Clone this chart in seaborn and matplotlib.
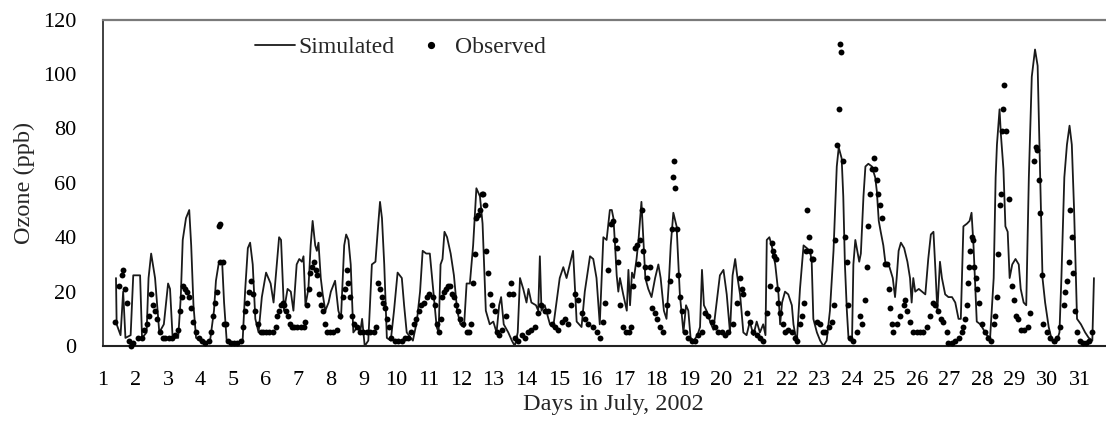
import matplotlib
matplotlib.use("Agg")
import matplotlib.pyplot as plt
from matplotlib.lines import Line2D
import seaborn as sns

# Simulated hourly ozone (vertices), day-of-month and ppb
sim_day = [1.40, 1.42, 1.54, 1.62, 1.69, 1.85, 1.93, 2.14, 2.20, 2.34, 2.40, 2.48, 2.60, 2.73, 2.87, 3.00,
           3.06, 3.14, 3.31, 3.39, 3.45, 3.55, 3.65, 3.71, 3.78, 3.86, 3.98, 4.13, 4.29, 4.41, 4.47, 4.55,
           4.66, 4.72, 4.80, 5.11, 5.29, 5.37, 5.45, 5.52, 5.60, 5.68, 5.78, 5.88, 6.01,
           6.15, 6.24, 6.34, 6.41, 6.47, 6.56, 6.67, 6.77, 6.85, 6.95, 7.03, 7.11, 7.16, 7.22, 7.31, 7.38,
           7.44, 7.52, 7.57, 7.62, 7.69, 7.75, 7.83, 7.93, 8.00, 8.13, 8.23, 8.31, 8.41, 8.47, 8.54, 8.61,
           8.69, 8.82, 8.90, 8.96, 9.04, 9.15, 9.26, 9.37, 9.45, 9.51, 9.57, 9.64, 9.72, 9.84, 9.94, 10.05,
           10.18, 10.25, 10.33, 10.52, 10.64, 10.74, 10.82, 10.93, 11.00,
           11.04, 11.14, 11.25, 11.31, 11.37, 11.43, 11.49, 11.57, 11.68, 11.78, 11.88, 11.98, 12.09, 12.17,
           12.27, 12.37, 12.47, 12.58, 12.66, 12.76, 12.88, 12.99, 13.09, 13.17, 13.23, 13.31, 13.45, 13.56,
           13.65, 13.74, 13.81, 13.91, 14.01, 14.07, 14.16, 14.30, 14.37, 14.42, 14.47, 14.57, 14.73, 14.83,
           14.93, 15.03, 15.14, 15.24, 15.34, 15.44, 15.55, 15.70, 15.80, 15.96, 16.06, 16.16, 16.26, 16.37,
           16.47, 16.57, 16.63, 16.68, 16.73, 16.78, 16.83, 16.88, 16.98, 17.09, 17.14, 17.19, 17.25, 17.31,
           17.39, 17.45, 17.54, 17.60, 17.66, 17.75, 17.85, 17.96, 18.06, 18.13, 18.23, 18.31, 18.38, 18.44,
           18.52, 18.62, 18.72, 18.83, 18.91, 18.98, 19.05, 19.15, 19.26, 19.34, 19.40, 19.46, 19.54, 19.65,
           19.75, 19.85, 19.95, 20.06, 20.16, 20.26, 20.34, 20.42, 20.48, 20.57, 20.67, 20.77, 20.87, 20.98,
           21.08, 21.18, 21.28, 21.35, 21.39, 21.47,
           21.54, 21.65, 21.75, 21.80, 21.86, 21.95, 22.05, 22.16, 22.21, 22.31, 22.41, 22.52, 22.62, 22.72,
           22.77, 22.82, 22.93, 23.03, 23.13, 23.23, 23.33, 23.44, 23.49, 23.54, 23.60, 23.69, 23.74, 23.79,
           23.85, 23.90, 23.95, 24.01, 24.05, 24.11, 24.17, 24.23, 24.28, 24.36, 24.42, 24.51, 24.62, 24.72,
           24.77, 24.83, 24.89, 24.97, 25.03, 25.16, 25.26, 25.33, 25.38, 25.44, 25.51, 25.61, 25.71, 25.79,
           25.84, 25.89, 25.95, 26.06, 26.16, 26.26, 26.35, 26.43, 26.51, 26.57, 26.63, 26.71, 26.77, 26.87,
           26.97, 27.08, 27.18, 27.28, 27.35, 27.43, 27.54, 27.62, 27.68, 27.74, 27.84, 27.95, 28.05, 28.15,
           28.25, 28.36, 28.42, 28.46, 28.54, 28.58, 28.66, 28.72, 28.79, 28.85, 28.93, 29.03, 29.13, 29.19,
           29.28, 29.36, 29.44, 29.53, 29.63, 29.71, 29.79, 29.86, 29.94, 30.05, 30.15, 30.28, 30.38, 30.44,
           30.53, 30.61, 30.69, 30.76, 30.83, 30.92, 31.04, 31.17, 31.28, 31.39, 31.44]
sim_ppb = [25, 8, 4, 20, 3, 4, 26, 26, 3, 5, 25, 34, 25, 5, 8, 23,
           21, 3, 3, 18, 39, 47, 50, 37, 15, 3, 2, 1, 2, 13, 24, 30,
           31, 16, 2, 1, 2, 21, 36, 38, 30, 10, 5, 18, 27,
           23, 16, 30, 40, 39, 13, 21, 20, 13, 30, 32, 31, 33, 15, 21, 37,
           46, 37, 35, 38, 25, 19, 13, 16, 20, 24, 13, 10, 37, 41, 39, 30,
           5, 7, 5, 10, 0, 2, 30, 31, 44, 53, 47, 30, 3, 2, 13, 27,
           25, 15, 5, 2, 9, 20, 35, 34, 34,
           34, 21, 7, 5, 30, 32, 42, 40, 34, 26, 13, 8, 7, 23,
           23, 37, 58, 55, 45, 13, 8, 9, 5, 15, 18, 8, 5, 2,
           0, 5, 25, 21, 16, 21, 16, 15, 13, 33, 13, 15, 8, 7,
           16, 25, 29, 25, 30, 35, 9, 7, 20, 33, 32, 25, 8, 40,
           39, 50, 50, 47, 37, 26, 20, 25, 19, 13, 28, 15, 27, 25,
           32, 39, 53, 39, 25, 21, 18, 25, 30, 25, 13, 10, 23, 37,
           49, 44, 19, 5, 15, 13, 3, 2, 4, 7, 28, 15, 13, 9,
           6, 16, 26, 28, 19, 5, 26, 32, 26, 19, 5, 4, 9, 4,
           9, 5, 8, 4, 39, 40,
           37, 30, 19, 8, 16, 20, 19, 15, 8, 1, 21, 37, 36, 35,
           31, 10, 5, 2, 0, 2, 13, 35, 50, 66, 73, 69, 55, 30,
           13, 3, 2, 3, 30, 39, 35, 31, 34, 55, 66, 67, 66, 62,
           57, 46, 42, 37, 31, 29, 25, 18, 25, 35, 38, 36, 31, 25,
           16, 25, 20, 21, 20, 19, 32, 41, 42, 28, 13, 31, 25, 19,
           18, 18, 16, 10, 10, 44, 45, 46, 49, 37, 9, 8, 6, 4,
           3, 25, 62, 74, 87, 78, 65, 44, 42, 25, 30, 32, 30, 21,
           16, 15, 62, 99, 109, 103, 62, 25, 16, 7, 2, 1, 5, 25,
           62, 74, 81, 74, 50, 10, 8, 5, 3, 2, 25]

# Observed hourly ozone dots, day-of-month and ppb
obs_day = [1.37, 1.50, 1.57, 1.62, 1.69, 1.73, 1.81, 1.87, 1.93, 2.09, 2.19, 2.26, 2.34, 2.42, 2.48, 2.55,
           2.61, 2.67, 2.75, 2.83, 2.91, 3.02, 3.12, 3.22, 3.30, 3.37, 3.43, 3.47, 3.53, 3.59, 3.65, 3.71,
           3.78, 3.86, 3.94, 4.04, 4.14, 4.25, 4.33, 4.39, 4.45, 4.51, 4.56, 4.58, 4.61, 4.68, 4.73, 4.78,
           4.84, 4.92, 5.02, 5.13, 5.23, 5.31, 5.37, 5.43, 5.50, 5.56, 5.62, 5.68, 5.76, 5.84, 5.93, 6.01,
           6.11, 6.22, 6.30, 6.36, 6.41, 6.46, 6.52, 6.57, 6.62, 6.68, 6.73, 6.80, 6.88, 6.97, 7.07, 7.16,
           7.22, 7.27, 7.32, 7.37, 7.42, 7.47, 7.53, 7.58, 7.63, 7.69, 7.77, 7.83, 7.89, 7.98, 8.08, 8.18,
           8.28, 8.37, 8.43, 8.49, 8.54, 8.59, 8.65, 8.71, 8.80, 8.90, 9.00, 9.10, 9.21, 9.31, 9.39, 9.46,
           9.51, 9.56, 9.61, 9.67, 9.72, 9.78, 9.86, 9.96, 10.07, 10.17, 10.27, 10.37, 10.45, 10.54, 10.62,
           10.70, 10.78, 10.86, 10.95, 11.03,
           11.14, 11.20, 11.25, 11.31, 11.37, 11.41, 11.47, 11.53, 11.59, 11.66, 11.72, 11.78, 11.84, 11.90,
           11.98, 12.07, 12.17, 12.25, 12.32, 12.37, 12.42, 12.47, 12.52, 12.58, 12.63, 12.68, 12.74, 12.78,
           12.83, 12.88, 12.94, 13.03, 13.09, 13.17, 13.27, 13.38, 13.46, 13.52, 13.58, 13.65, 13.75, 13.86,
           13.96, 14.06, 14.16, 14.27, 14.37, 14.47, 14.57, 14.68, 14.78, 14.88, 14.98, 15.09, 15.19, 15.29,
           15.39, 15.50, 15.60, 15.70, 15.80, 15.90, 16.06, 16.16, 16.26, 16.37,
           16.42, 16.52, 16.62, 16.68, 16.73, 16.78, 16.83, 16.88, 16.98, 17.07, 17.15, 17.23, 17.29, 17.34,
           17.39, 17.44, 17.50, 17.55, 17.60, 17.65, 17.70, 17.80, 17.85, 17.96, 18.03, 18.11, 18.21, 18.31,
           18.42, 18.47, 18.52, 18.54, 18.58, 18.62, 18.67, 18.72, 18.78, 18.88, 18.98, 19.08, 19.18, 19.29,
           19.39, 19.49, 19.59, 19.70, 19.80, 19.90, 20.01, 20.11, 20.21, 20.36, 20.47, 20.57, 20.62, 20.67,
           20.77, 20.87, 20.98, 21.08, 21.18, 21.28, 21.39, 21.49,
           21.54, 21.57, 21.62, 21.66, 21.70, 21.75, 21.80, 21.90, 21.96, 22.05, 22.16, 22.26, 22.33, 22.41,
           22.46, 22.52, 22.58, 22.64, 22.68, 22.72, 22.77, 22.82, 22.92, 23.03, 23.13, 23.19, 23.29, 23.40,
           23.44, 23.49, 23.54, 23.60, 23.63, 23.67, 23.74, 23.79, 23.85, 23.90, 23.95, 24.05, 24.15, 24.24,
           24.31, 24.41, 24.46, 24.51, 24.56, 24.62, 24.67, 24.72, 24.77, 24.82, 24.87, 24.93, 25.02, 25.08,
           25.13, 25.18, 25.23, 25.28, 25.38, 25.48, 25.59, 25.64, 25.69, 25.79, 25.89, 25.99, 26.10, 26.20,
           26.30, 26.41, 26.51, 26.57, 26.66, 26.73, 26.81, 26.92,
           26.97, 27.08, 27.18, 27.28, 27.38, 27.43, 27.48, 27.54, 27.56, 27.60, 27.64, 27.69, 27.72, 27.76,
           27.82, 27.86, 27.92, 28.00, 28.10, 28.20, 28.27, 28.36, 28.41, 28.46, 28.50, 28.54, 28.58, 28.62,
           28.66, 28.69, 28.74, 28.82, 28.92, 28.97, 29.05, 29.11, 29.20, 29.30, 29.40, 29.48, 29.60, 29.65,
           29.69, 29.74, 29.79, 29.85, 29.89, 29.99, 30.10, 30.20, 30.30, 30.40, 30.51, 30.56, 30.61, 30.66,
           30.71, 30.76, 30.81, 30.86, 30.92, 31.00, 31.10, 31.20, 31.30, 31.39]
obs_ppb = [9, 22, 26, 28, 21, 16, 2, 0, 1, 3, 3, 6, 8, 11, 19, 15,
           13, 10, 5, 3, 3, 3, 3, 4, 6, 13, 18, 22, 21, 20, 18, 14,
           9, 5, 3, 2, 1, 2, 5, 11, 16, 20, 44, 45, 31, 31, 8, 8,
           2, 1, 1, 1, 2, 7, 13, 16, 20, 24, 19, 13, 8, 5, 5, 5,
           5, 5, 7, 11, 13, 15, 16, 15, 13, 11, 8, 7, 7, 7, 7, 7,
           9, 15, 21, 27, 29, 31, 28, 26, 19, 15, 13, 8, 5, 5, 5, 6,
           11, 18, 21, 28, 23, 18, 11, 8, 7, 5, 5, 5, 5, 5, 7, 23,
           21, 18, 16, 14, 10, 7, 3, 2, 2, 2, 3, 3, 5, 8, 10,
           13, 15, 16, 18, 19,
           18, 15, 8, 5, 10, 18, 20, 21, 22, 22, 19, 18, 15, 13,
           10, 8, 5, 5, 8, 23, 34, 47, 48, 50, 56, 56, 52, 35,
           27, 19, 15, 13, 5, 4, 6, 11, 19, 23, 19, 3, 2, 4,
           3, 5, 6, 7, 12, 15, 13, 13, 8, 7, 6, 9, 10, 8,
           15, 19, 17, 12, 10, 8, 7, 5, 3, 9,
           16, 28, 45, 46, 39, 36, 31, 15, 7, 5, 5, 7, 22, 36,
           37, 30, 39, 50, 35, 29, 25, 29, 14, 12, 10, 7, 5, 15,
           24, 43, 62, 68, 58, 43, 26, 18, 13, 5, 3, 2, 2, 4,
           5, 12, 11, 9, 7, 5, 5, 4, 5, 8, 16, 25, 21, 19,
           12, 9, 5, 4, 3, 2, 12, 22,
           38, 35, 33, 32, 21, 16, 12, 8, 5, 6, 5, 3, 2, 8,
           11, 16, 35, 50, 40, 35, 32, 32, 9, 8, 5, 5, 7, 9,
           15, 39, 74, 87, 111, 108, 68, 40, 31, 15, 3, 2, 5, 11,
           8, 17, 29, 44, 56, 65, 69, 65, 61, 56, 52, 47, 30, 30,
           21, 14, 8, 5, 8, 11, 15, 17, 13, 9, 5, 5, 5, 5,
           7, 11, 16, 15, 13, 10, 9, 5,
           1, 1, 2, 3, 5, 7, 10, 15, 23, 29, 35, 40, 39, 29,
           25, 21, 16, 8, 5, 3, 2, 8, 11, 18, 34, 52, 56, 79,
           87, 96, 79, 54, 22, 17, 11, 10, 6, 6, 7, 12, 68, 73,
           72, 61, 49, 26, 8, 5, 3, 2, 3, 7, 15, 20, 24, 31,
           50, 40, 27, 13, 5, 2, 1, 1, 2, 5]

day_ticks = list(range(1, 32))
ozone_ticks = [0, 20, 40, 60, 80, 100, 120]

sns.set_style("white")
plt.rcParams['font.family'] = ['Liberation Serif', 'DejaVu Serif']

fig = plt.figure(figsize=(11.06, 4.21), dpi=100)
ax = fig.add_axes([0.0931, 0.178, 0.9069, 0.7755])

sns.lineplot(x=sim_day, y=sim_ppb, ax=ax, color='#1a1a1a', linewidth=1.3,
             estimator=None, sort=False, legend=False)
sns.scatterplot(x=obs_day, y=obs_ppb, ax=ax, color='black', s=18, linewidth=0,
                legend=False, clip_on=False, zorder=3)

ax.set_xlim(1, 31.81)
ax.set_ylim(0, 120)
ax.set_xticks(day_ticks)
ax.set_yticks(ozone_ticks)
ax.tick_params(axis='x', direction='in', length=5, width=1, pad=18, labelsize=16, colors='black')
ax.tick_params(axis='y', direction='out', length=5, width=1, pad=14, labelsize=16, colors='black')

ax.spines['right'].set_visible(False)
ax.spines['top'].set_color('#7a7a7a')
ax.spines['top'].set_linewidth(1.6)
ax.spines['left'].set_color('#333333')
ax.spines['left'].set_linewidth(1.3)
ax.spines['bottom'].set_color('#222222')
ax.spines['bottom'].set_linewidth(1.5)

ax.set_xlabel('Days in July, 2002', fontsize=17.5)
ax.set_ylabel('Ozone (ppb)', fontsize=17.5)
ax.xaxis.set_label_coords(0.509, -0.147)
ax.yaxis.set_label_coords(-0.068, 0.5)

handles = [Line2D([], [], color='#1a1a1a', linewidth=1.3),
           Line2D([], [], color='black', marker='o', markersize=4.2, linestyle='none')]
ax.legend(handles, ['Simulated', 'Observed'], ncol=2, loc='upper left',
          bbox_to_anchor=(0.1515, 0.948), frameon=False, fontsize=17,
          handlelength=1.7, handletextpad=0.15, columnspacing=0.7,
          borderpad=0, borderaxespad=0)

fig.savefig('out.png', dpi=100)
